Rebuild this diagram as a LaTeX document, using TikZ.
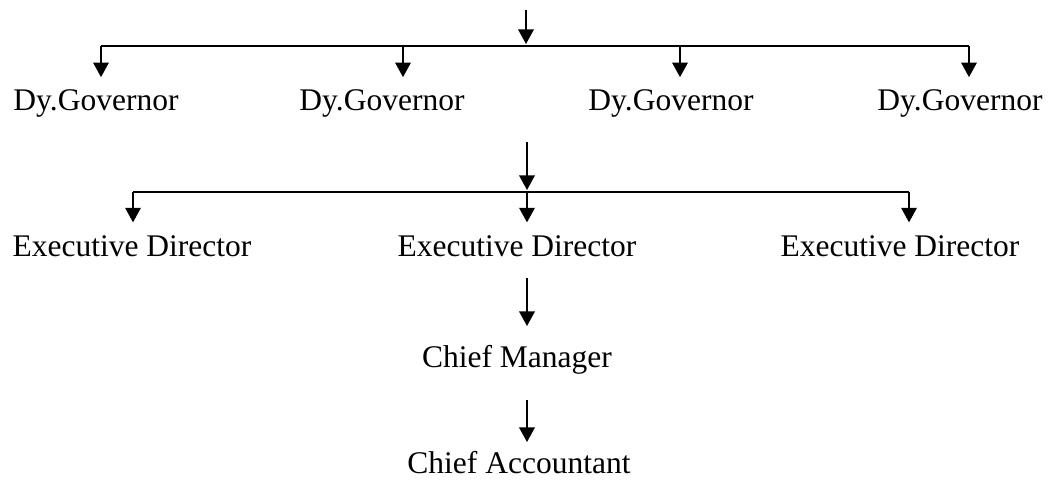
\documentclass[tikz,border=0pt]{standalone}
\usepackage{fontspec}
\setmainfont{Liberation Serif}
\usepackage{tikz}
\usetikzlibrary{arrows.meta,positioning,calc}

\begin{document}
\begin{tikzpicture}[
    x=0.5pt, y=-0.5pt,
    post/.style={inner sep=0pt, anchor=base, font=\fontsize{15.75}{19}\selectfont},
    arrow/.style={-{Triangle[length=7.3pt, width=7.8pt]}, line width=0.8pt},
    bar/.style={line width=0.8pt}
]
    \useasboundingbox (0,0) rectangle (1051,484);

    % Deputy governors
    \coordinate (gtop) at (526,10);
    \node[post] (gov1) at (96,110) {Dy.Governor};
    \node[post] (gov2) at (382,110) {Dy.Governor};
    \node[post] (gov3) at (671,110) {Dy.Governor};
    \node[post] (gov4) at (960,110) {Dy.Governor};
    \foreach \i/\x in {1/101, 2/403, 3/680, 4/969} {
        \coordinate (gd\i) at (\x,46);
        \draw[arrow] (gd\i) -- ([yshift=5.8pt]gov\i.north -| gd\i);
    }
    \draw[arrow] (gtop) -- ([yshift=1pt]gtop |- gd1);
    \draw[bar] (gd1) -- (gd4);

    % Executive directors
    \coordinate (etop) at (527,142);
    \node[post] (exec1) at (132,256) {Executive Director};
    \node[post] (exec2) at (517,256) {Executive Director};
    \node[post] (exec3) at (900,256) {Executive Director};
    \foreach \i/\x in {1/133, 2/527, 3/909} {
        \coordinate (ed\i) at (\x,192);
        \draw[arrow] (ed\i) -- ([yshift=6.2pt]exec\i.north -| ed\i);
    }
    \draw[arrow] (etop) -- ([yshift=1pt]ed2);
    \draw[bar] (ed1) -- (ed3);

    % Chief manager and chief accountant
    \node[post] (manager) at (517,367) {Chief Manager};
    \node[post] (accountant) at (519,473) {Chief Accountant};
    \draw[arrow] ([yshift=-10.5pt]exec2.south -| ed2) -- ([yshift=9.2pt]manager.north -| ed2);
    \draw[arrow] ([yshift=-13pt]manager.south -| ed2) -- ([yshift=4.2pt]accountant.north -| ed2);

\end{tikzpicture}
\end{document}
